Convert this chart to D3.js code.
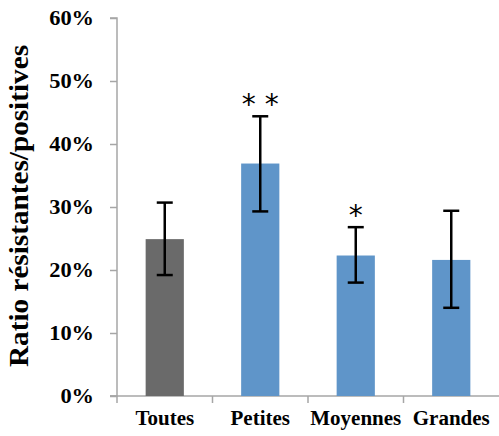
<!DOCTYPE html>
<html>
<head>
<meta charset="utf-8">
<script src="https://cdn.jsdelivr.net/npm/d3@7"></script>
<style>
  body { margin: 0; background: #fff; }
  text { font-family: "Liberation Serif", "Times New Roman", serif; font-weight: bold; }
</style>
</head>
<body>
<div class="chart"></div>
<script>
var width = 499;
var height = 436;

// data
var categories = ["Toutes", "Petites", "Moyennes", "Grandes"];
var ratios = [0.249, 0.369, 0.223, 0.216];
var errLow = [0.192, 0.293, 0.180, 0.140];
var errHigh = [0.307, 0.444, 0.268, 0.294];
var stars = ["", "* *", "*", ""];
var yTicks = [0, 0.1, 0.2, 0.3, 0.4, 0.5, 0.6];

var svg = d3.select(".chart")
  .append("svg")
  .attr("width", width)
  .attr("height", height);

var x = d3.scaleBand()
  .domain(categories)
  .range([117, 499])
  .paddingInner(0.6)
  .paddingOuter(0.3);

var y = d3.scaleLinear()
  .domain([0, 0.6])
  .range([396, 18]);

// stretch text a bit wider, the original looks that way
function stretch(sel, k) {
  sel.each(function() {
    var len = this.getComputedTextLength();
    d3.select(this)
      .attr("textLength", len * k)
      .attr("lengthAdjust", "spacingAndGlyphs");
  });
}

// y axis
var yAxis = d3.axisLeft(y)
  .tickValues(yTicks)
  .tickFormat(d3.format(".0%"))
  .tickSize(7)
  .tickPadding(16);

var gy = svg.append("g")
  .attr("transform", "translate(117,0)")
  .call(yAxis);
gy.selectAll("path, line").attr("stroke", "#a6a6a6").attr("stroke-width", 1.5);
gy.select(".domain").attr("d", "M-7,18H0V396H-7");
gy.selectAll("text")
  .attr("font-size", 20)
  .attr("fill", "#000")
  .style("font-family", "Liberation Serif")
  .style("font-weight", "bold")
  .call(stretch, 1.12);

// x axis
var xAxis = d3.axisBottom(x).tickSize(0).tickPadding(15);
var gx = svg.append("g")
  .attr("transform", "translate(0,396)")
  .call(xAxis);
gx.select(".domain").attr("stroke", "#a6a6a6").attr("stroke-width", 1.5).attr("d", "M110,0H499");
gx.selectAll("text")
  .attr("font-size", 20)
  .attr("fill", "#000")
  .style("font-family", "Liberation Serif")
  .style("font-weight", "bold")
  .call(stretch, 1.05);

// category separators
var step = x.step();
svg.selectAll(".sep")
  .data(categories)
  .enter().append("line")
  .attr("class", "sep")
  .attr("x1", function(d) { return x(d) - x.paddingOuter() * step; })
  .attr("x2", function(d) { return x(d) - x.paddingOuter() * step; })
  .attr("y1", 396)
  .attr("y2", 403)
  .attr("stroke", "#a6a6a6")
  .attr("stroke-width", 1.5);

// bars
svg.selectAll(".bar")
  .data(categories)
  .enter().append("rect")
  .attr("class", "bar")
  .attr("x", function(d) { return x(d); })
  .attr("width", x.bandwidth())
  .attr("y", function(d, i) { return y(ratios[i]); })
  .attr("height", function(d, i) { return y(0) - y(ratios[i]); })
  .attr("fill", function(d, i) { return i === 0 ? "#6a6a6a" : "#5f95c9"; });

// error bars
var eb = svg.selectAll(".err")
  .data(categories)
  .enter().append("g")
  .attr("class", "err")
  .attr("stroke", "#000")
  .attr("stroke-width", 2.5);

eb.append("line")
  .attr("x1", function(d) { return x(d) + x.bandwidth() / 2; })
  .attr("x2", function(d) { return x(d) + x.bandwidth() / 2; })
  .attr("y1", function(d, i) { return y(errLow[i]); })
  .attr("y2", function(d, i) { return y(errHigh[i]); });

eb.append("line")
  .attr("x1", function(d) { return x(d) + x.bandwidth() / 2 - 8; })
  .attr("x2", function(d) { return x(d) + x.bandwidth() / 2 + 8; })
  .attr("y1", function(d, i) { return y(errHigh[i]); })
  .attr("y2", function(d, i) { return y(errHigh[i]); });

eb.append("line")
  .attr("x1", function(d) { return x(d) + x.bandwidth() / 2 - 8; })
  .attr("x2", function(d) { return x(d) + x.bandwidth() / 2 + 8; })
  .attr("y1", function(d, i) { return y(errLow[i]); })
  .attr("y2", function(d, i) { return y(errLow[i]); });

// significance stars
svg.selectAll(".star")
  .data(categories)
  .enter().append("text")
  .attr("class", "star")
  .attr("x", function(d) { return x(d) + x.bandwidth() / 2; })
  .attr("y", function(d, i) { return y(errHigh[i]) - 2; })
  .attr("text-anchor", "middle")
  .attr("font-size", 28)
  .style("font-family", "DejaVu Sans")
  .style("font-weight", "normal")
  .text(function(d, i) { return stars[i]; });

// y title
svg.append("text")
  .attr("transform", "translate(28,206) rotate(-90)")
  .attr("text-anchor", "middle")
  .attr("font-size", 27)
  .attr("textLength", 322)
  .attr("lengthAdjust", "spacingAndGlyphs")
  .text("Ratio résistantes/positives");
</script>
</body>
</html>
